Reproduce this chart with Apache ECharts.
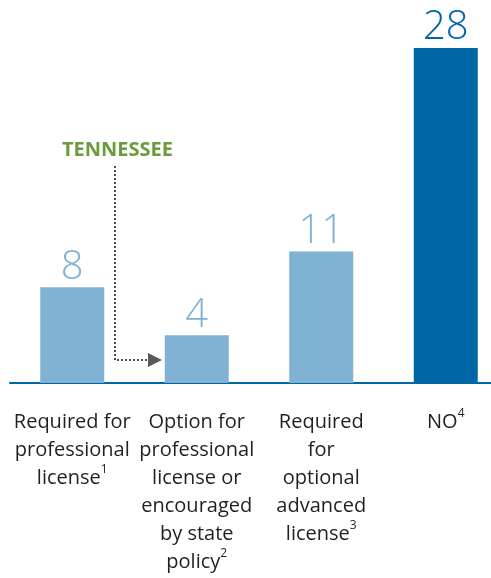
<!DOCTYPE html>
<html>
<head>
<meta charset="utf-8">
<title>Teacher licensure requirements</title>
<script src="https://cdn.jsdelivr.net/npm/echarts@6/dist/echarts.min.js"></script>
<style>
  html, body { margin: 0; padding: 0; background: #fff; }
  #chart { width: 491px; height: 578px; }
</style>
</head>
<body>
<div id="chart"></div>
<script>
// Category names, split into the lines shown under each bar
const categories = [
  'Required for professional license',
  'Option for professional license or encouraged by state policy',
  'Required for optional advanced license',
  'NO'
];
const categoryLines = [
  ['Required for', 'professional', 'license'],
  ['Option for', 'professional', 'license or', 'encouraged', 'by state', 'policy'],
  ['Required', 'for', 'optional', 'advanced', 'license'],
  ['NO']
];
const footnotes = ['1', '2', '3', '4'];
const states = [8, 4, 11, 28];
const barColors = ['#80b2d3', '#80b2d3', '#80b2d3', '#0066a6'];

const chart = echarts.init(document.getElementById('chart'), null, { renderer: 'canvas' });

const font = '"Open Sans", "Liberation Sans", sans-serif';

chart.setOption({
  animation: false,
  // the plot runs past the right edge so the four columns sit where the labels need them
  grid: { left: 10, right: -17, top: 48, bottom: 195, containLabel: false, outerBoundsMode: 'none' },
  xAxis: {
    type: 'category',
    data: categories,
    axisLine: { show: true, lineStyle: { color: '#0066a6', width: 2 } },
    axisTick: { show: false },
    axisLabel: {
      interval: 0,
      margin: 25,
      formatter: function (value, index) {
        const lines = categoryLines[index].map(l => '{t|' + l + '}');
        lines[lines.length - 1] += '{s|' + footnotes[index] + '}';
        return lines.join('\n');
      },
      rich: {
        t: { fontFamily: font, fontSize: 20, lineHeight: 28, color: '#231f20' },
        s: { fontFamily: font, fontSize: 12, lineHeight: 16, color: '#231f20', verticalAlign: 'top' }
      }
    }
  },
  yAxis: {
    type: 'value',
    min: 0,
    max: 28,
    show: false
  },
  series: [{
    type: 'bar',
    barWidth: 64,
    data: states.map((v, i) => ({
      value: v,
      itemStyle: { color: barColors[i] },
      label: { color: barColors[i] }
    })),
    label: {
      show: true,
      position: 'top',
      distance: 0,
      fontFamily: font,
      fontSize: 40,
      fontWeight: 300
    }
  }],
  graphic: [
    {
      type: 'text',
      left: 62,
      top: 140,
      style: {
        text: 'TENNESSEE',
        fill: '#6b9b3c',
        font: 'bold 20px ' + font
      }
    },
    {
      type: 'polyline',
      shape: { points: [[115, 166], [115, 360], [149, 360]] },
      style: { stroke: '#4d4d4f', lineWidth: 2, lineDash: [2, 2], fill: null }
    },
    {
      type: 'polygon',
      shape: { points: [[148, 353], [162, 360], [148, 367]] },
      style: { fill: '#58595b' }
    }
  ]
});
</script>
</body>
</html>
